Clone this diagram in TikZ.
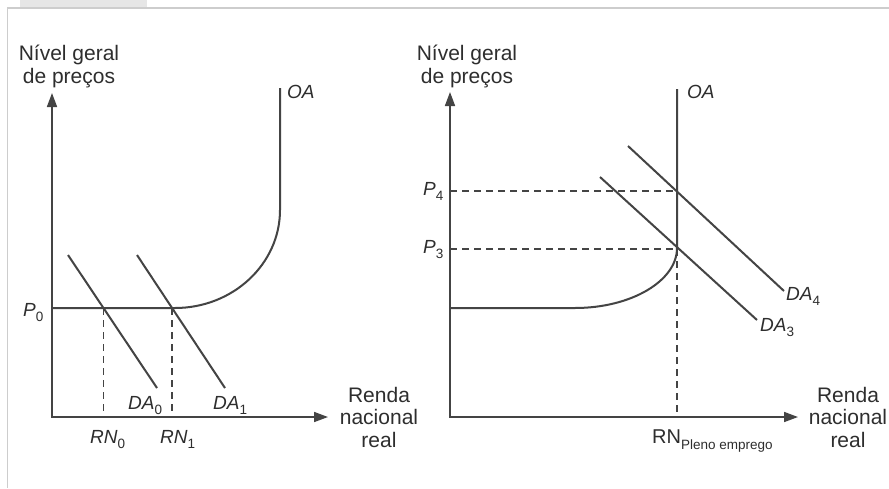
\documentclass[tikz,border=0pt]{standalone}
\usepackage{fontspec}
\setmainfont{Liberation Sans}
\usetikzlibrary{arrows.meta}
\definecolor{ink}{HTML}{444444}
\definecolor{txt}{HTML}{2E2E2E}
\definecolor{framec}{HTML}{CDCDCD}
\definecolor{tabfill}{HTML}{E6E6E6}
\newcommand{\lsub}[1]{\raisebox{-0.3em}{\fontsize{13.5}{13.5}\selectfont\upshape #1}}
\begin{document}
\begin{tikzpicture}[x=1pt,y=-1pt,
  curve/.style={draw=ink,line width=2pt},
  axis/.style={draw=ink,line width=1.6pt,{Triangle[length=14pt,width=10pt]}-{Triangle[length=14pt,width=10pt]}},
  guide/.style={draw=ink,line width=1.3pt,dash pattern=on 7pt off 5pt},
  lbl/.style={text=txt,inner sep=0pt,font=\fontsize{19}{22}\selectfont\itshape,anchor=base west},
  axtitle/.style={text=txt,inner sep=0pt,align=center,font=\fontsize{21}{22.5}\selectfont,anchor=north}]
\useasboundingbox (0,0) rectangle (889,488);
\fill[white] (0,0) rectangle (889,488);
% frame
\fill[tabfill] (20,0) -- (147,0) -- (147,7) -- (20,7) -- cycle;
\draw[framec,line width=1.5pt] (889,8) -- (7.5,8) -- (7.5,488);

% ---------- left chart ----------
\coordinate (O1) at (52,417);
\coordinate (Y1) at (52,93);
\coordinate (X1) at (328,417);
\draw[axis] (Y1) -- (O1) -- (X1);
\coordinate (P0a) at (52,308);
\coordinate (K1) at (175,308);
\coordinate (V1) at (280,210);
\coordinate (T1) at (280,88);
\draw[curve] (P0a) -- (K1) .. controls (233,308) and (280,264) .. (V1) -- (T1);
\coordinate (D0s) at (68,255);
\coordinate (D0e) at (157,388);
\coordinate (D1s) at (137,255);
\coordinate (D1e) at (225,388);
\draw[curve] (D0s) -- (D0e);
\draw[curve] (D1s) -- (D1e);
\coordinate (E0) at (103.5,308);
\coordinate (E0b) at (103.5,417);
\coordinate (E1) at (172,308);
\coordinate (E1b) at (172,417);
\draw[guide] (E0) -- (E0b);
\draw[guide] (E1) -- (E1b);
\node[axtitle] (yl1) at (69,45) {Nível geral\\de preços};
\node[axtitle] (xl1) at (379,387) {Renda\\nacional\\real};
\node[lbl] (p0) at (23,316) {P\lsub{0}};
\node[lbl] (oa1) at (287,98) {OA};
\node[lbl] (da0) at (128,409) {DA\lsub{0}};
\node[lbl] (da1) at (213,409) {DA\lsub{1}};
\node[lbl] (rn0) at (90,443) {RN\lsub{0}};
\node[lbl] (rn1) at (160,443) {RN\lsub{1}};

% ---------- right chart ----------
\coordinate (O2) at (450,417);
\coordinate (Y2) at (450,92);
\coordinate (X2) at (798,417);
\draw[axis] (Y2) -- (O2) -- (X2);
\coordinate (H2) at (450,308);
\coordinate (K2) at (575,308);
\coordinate (V2) at (677,248);
\coordinate (T2) at (677,89);
\draw[curve] (H2) -- (K2) .. controls (631,308) and (677,281) .. (V2) -- (T2);
\coordinate (D3s) at (600,177);
\coordinate (D3e) at (757,320);
\coordinate (D4s) at (628,146);
\coordinate (D4e) at (784,291);
\draw[curve] (D3s) -- (D3e);
\draw[curve] (D4s) -- (D4e);
\coordinate (P4a) at (450,191);
\coordinate (P4b) at (677,191);
\coordinate (P3a) at (450,249);
\coordinate (P3b) at (677,249);
\coordinate (F2) at (677,417);
\draw[guide] (P4a) -- (P4b);
\draw[guide] (P3a) -- (P3b);
\draw[guide] (P3b) -- (F2);
\node[axtitle] (yl2) at (467,45) {Nível geral\\de preços};
\node[axtitle] (xl2) at (848,387) {Renda\\nacional\\real};
\node[lbl] (p4) at (423,195) {P\lsub{4}};
\node[lbl] (p3) at (423,253) {P\lsub{3}};
\node[lbl] (oa2) at (687,98) {OA};
\node[lbl] (da4) at (786,300) {DA\lsub{4}};
\node[lbl] (da3) at (760,331) {DA\lsub{3}};
\node[lbl,font=\fontsize{20}{22}\selectfont] (rnp) at (652,443) {RN\raisebox{-0.3em}{\fontsize{13.5}{13.5}\selectfont Pleno emprego}};
\end{tikzpicture}
\end{document}
